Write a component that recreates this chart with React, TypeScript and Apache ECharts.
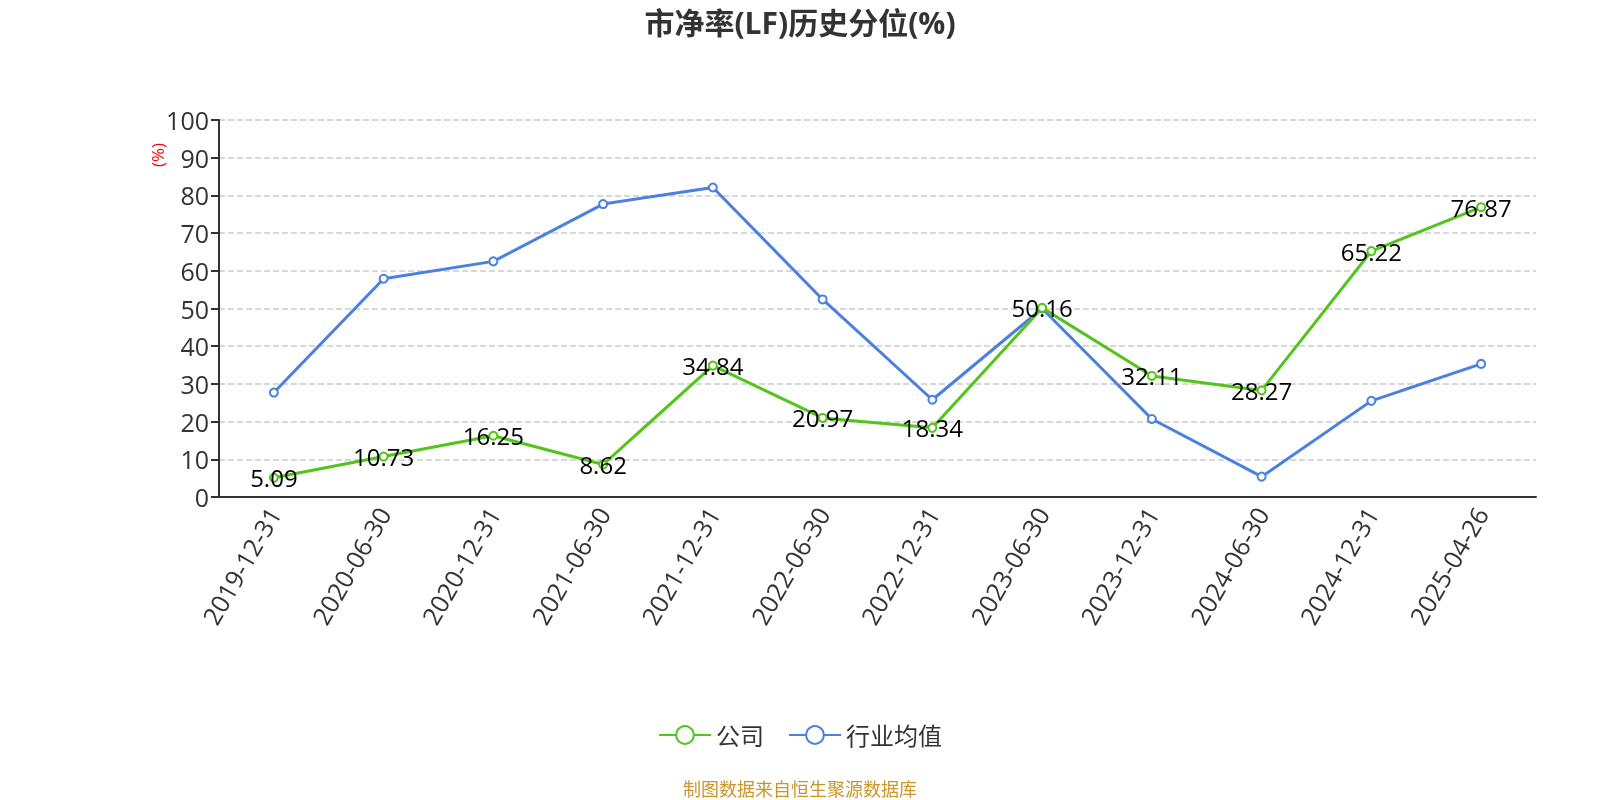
import React, { useEffect, useRef } from "react";
import * as echarts from "echarts";

const categories = [
  "2019-12-31", "2020-06-30", "2020-12-31", "2021-06-30", "2021-12-31", "2022-06-30",
  "2022-12-31", "2023-06-30", "2023-12-31", "2024-06-30", "2024-12-31", "2025-04-26",
];
const companyValues = [5.09, 10.73, 16.25, 8.62, 34.84, 20.97, 18.34, 50.16, 32.11, 28.27, 65.22, 76.87];
const industryValues = [27.7, 57.9, 62.5, 77.7, 82.1, 52.4, 25.8, 50.0, 20.7, 5.4, 25.5, 35.3];
const seriesNames = ["公司", "行业均值"];

const FONT = "'Open Sans', 'Noto Sans CJK SC', sans-serif";

export default function App() {
  const ref = useRef<HTMLDivElement>(null);
  useEffect(() => {
    if (!ref.current) return;
    const chart = echarts.init(ref.current, null, { renderer: "svg" });
    chart.setOption({
      animation: false,
      textStyle: { fontFamily: FONT },
      title: {
        text: "市净率(LF)历史分位(%)",
        left: "center",
        top: 2,
        textStyle: { fontSize: 30, fontWeight: "bold", color: "#333", fontFamily: FONT },
      },
      legend: {
        top: 718,
        left: "center",
        itemWidth: 52,
        itemHeight: 22,
        itemGap: 24,
        textStyle: { fontSize: 24, color: "#333", fontFamily: FONT },
        data: seriesNames,
      },
      grid: { left: 219, right: 64, top: 120, bottom: 303, containLabel: false },
      xAxis: {
        type: "category",
        data: categories,
        boundaryGap: true,
        axisLine: { lineStyle: { color: "#333", width: 2 } },
        axisTick: { alignWithLabel: false, lineStyle: { color: "#333", width: 2 }, length: 7 },
        axisLabel: { rotate: 60, fontSize: 25, color: "#333", margin: 12, fontFamily: FONT },
      },
      yAxis: {
        type: "value",
        min: 0,
        max: 100,
        interval: 10,
        axisLine: { show: true, lineStyle: { color: "#333", width: 2 } },
        axisTick: { show: true, lineStyle: { color: "#333", width: 2 }, length: 8 },
        axisLabel: { fontSize: 25, color: "#333", margin: 10, fontFamily: FONT },
        splitLine: { show: true, lineStyle: { type: "dashed", color: "#ccc", width: 1.5 } },
      },
      graphic: [
        {
          type: "text",
          x: 157,
          y: 155,
          rotation: Math.PI / 2,
          style: {
            text: "(%)",
            fill: "red",
            fontSize: 17,
            fontFamily: FONT,
            align: "center",
            verticalAlign: "middle",
          },
        },
        {
          type: "text",
          x: 800,
          y: 789,
          style: {
            text: "制图数据来自恒生聚源数据库",
            fill: "#c8962a",
            fontSize: 18,
            fontFamily: FONT,
            align: "center",
            verticalAlign: "middle",
          },
        },
      ],
      series: [
        {
          name: seriesNames[0],
          type: "line",
          data: companyValues,
          symbol: "emptyCircle",
          symbolSize: 8,
          itemStyle: { color: "#52c41a" },
          lineStyle: { width: 3, color: "#52c41a" },
          label: {
            show: true,
            position: "inside",
            fontSize: 24,
            color: "#000",
            fontFamily: FONT,
          },
          z: 3,
        },
        {
          name: seriesNames[1],
          type: "line",
          data: industryValues,
          symbol: "emptyCircle",
          symbolSize: 8,
          itemStyle: { color: "#4a80e0" },
          lineStyle: { width: 3, color: "#4a80e0" },
          z: 2,
        },
      ],
    });
    return () => chart.dispose();
  }, []);
  return (
    <div
      ref={ref}
      style={{ position: "fixed", left: 0, top: 0, width: 1600, height: 800 }}
    />
  );
}
